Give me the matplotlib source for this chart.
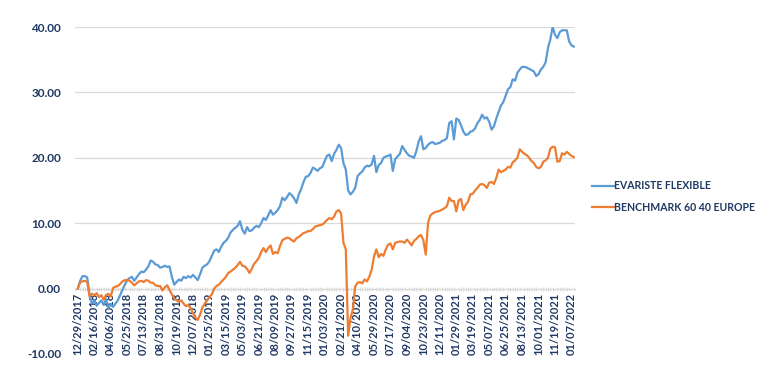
import matplotlib
matplotlib.use("Agg")
import matplotlib.pyplot as plt
from matplotlib.ticker import FixedLocator, MultipleLocator

plt.rcParams['font.family'] = ['Lato', 'DejaVu Sans']

tick_labels = ["12/29/2017", "02/16/2018", "04/06/2018", "05/25/2018", "07/13/2018",
               "08/31/2018", "10/19/2018", "12/07/2018", "01/25/2019", "03/15/2019",
               "05/03/2019", "06/21/2019", "08/09/2019", "09/27/2019", "11/15/2019",
               "01/03/2020", "02/21/2020", "04/10/2020", "05/29/2020", "07/17/2020",
               "09/04/2020", "10/23/2020", "12/11/2020", "01/29/2021", "03/19/2021",
               "05/07/2021", "06/25/2021", "08/13/2021", "10/01/2021", "11/19/2021",
               "01/07/2022"]

evariste = [
    0.0, 1.2, 1.9, 1.9, 1.7, -1.0, -2.3, -1.8, -2.6, -2.2,
    -1.8, -2.5, -1.6, -3.0, -2.4, -2.8, -2.3, -1.8, -1.0, -0.2,
    0.6, 1.3, 1.6, 1.8, 1.2, 1.7, 2.2, 2.6, 2.5, 2.9,
    3.4, 4.3, 4.1, 3.7, 3.6, 3.2, 3.3, 3.5, 3.3, 3.4,
    1.8, 0.6, 1.0, 1.4, 1.2, 1.8, 1.6, 1.9, 1.7, 2.1,
    1.7, 1.3, 2.2, 3.2, 3.5, 3.7, 4.2, 5.0, 5.8, 6.0,
    5.6, 6.4, 7.0, 7.3, 7.8, 8.6, 9.0, 9.3, 9.6, 10.3,
    9.0, 8.4, 9.4, 8.8, 8.9, 9.3, 9.6, 9.4, 10.0, 10.8,
    10.5, 11.2, 12.0, 11.3, 11.6, 12.0, 12.6, 13.9, 13.5, 14.0,
    14.6, 14.3, 13.8, 13.1, 14.4, 15.2, 16.3, 17.1, 17.2, 17.7,
    18.5, 18.3, 18.0, 18.4, 18.6, 19.5, 20.3, 20.5, 19.5, 20.6,
    21.2, 22.0, 21.5, 19.2, 18.2, 15.0, 14.4, 14.8, 15.4, 17.2,
    17.6, 17.9, 18.5, 18.8, 18.7, 19.0, 20.3, 17.8, 18.9, 19.2,
    20.0, 20.2, 20.3, 20.5, 18.0, 19.8, 20.2, 20.6, 21.8, 21.2,
    20.7, 20.3, 20.2, 20.0, 21.0, 22.5, 23.3, 21.3, 21.5, 22.0,
    22.3, 22.4, 22.1, 22.2, 22.3, 22.6, 22.7, 23.0, 25.3, 25.6,
    22.8, 26.0, 25.8, 25.0, 24.0, 23.5, 23.6, 24.0, 24.1, 24.5,
    25.3, 25.8, 26.6, 26.0, 26.2, 25.5, 24.3, 24.8, 26.0, 27.0,
    28.0, 28.5, 29.5, 30.5, 30.8, 32.0, 31.8, 33.0, 33.5, 33.9,
    33.9, 33.8, 33.6, 33.4, 33.2, 32.5, 32.8, 33.5, 33.9, 34.6,
    36.8, 38.1, 40.0, 38.8, 38.3, 39.2, 39.5, 39.5, 39.5, 37.8,
    37.2, 37.0]

benchmark = [
    0.0, 1.0, 1.1, 1.2, 1.0, -1.2, -0.8, -1.0, -0.7, -1.3,
    -1.0, -1.7, -1.0, -0.8, -1.2, 0.1, 0.3, 0.4, 0.7, 1.1,
    1.3, 1.3, 1.2, 0.9, 0.5, 0.8, 1.1, 1.2, 1.0, 1.3,
    1.2, 0.9, 0.9, 0.5, 0.4, 0.4, -0.3, 0.2, 0.5, -0.2,
    -0.9, -1.5, -1.8, -2.0, -1.8, -2.3, -2.7, -2.5, -3.0, -3.8,
    -4.4, -4.8, -4.0, -2.9, -2.3, -1.8, -1.3, -0.9, 0.0, 0.4,
    0.6, 1.0, 1.4, 1.8, 2.4, 2.6, 2.9, 3.2, 3.6, 4.1,
    3.5, 3.4, 3.0, 2.4, 3.0, 3.8, 4.2, 4.7, 5.6, 6.2,
    5.6, 6.2, 6.6, 5.3, 5.6, 5.4, 6.5, 7.4, 7.6, 7.8,
    7.7, 7.4, 7.2, 7.7, 7.9, 8.2, 8.5, 8.6, 8.8, 8.8,
    9.1, 9.5, 9.6, 9.7, 9.8, 10.1, 10.5, 10.8, 10.6, 11.0,
    11.8, 12.0, 11.5, 7.0, 6.0, -7.2, -4.5, -3.2, 0.3, 0.9,
    1.0, 0.8, 1.4, 1.1, 1.8, 2.9, 4.9, 6.0, 4.8, 5.3,
    5.0, 6.0, 6.7, 6.9, 6.0, 7.0, 7.1, 7.2, 7.2, 7.0,
    7.5, 7.1, 6.6, 7.3, 7.6, 8.0, 8.2, 7.4, 5.2, 10.1,
    11.2, 11.5, 11.7, 11.8, 11.9, 12.1, 12.3, 12.6, 13.9, 13.4,
    13.4, 11.8, 13.5, 13.7, 12.0, 12.8, 13.3, 14.4, 14.5, 15.0,
    15.4, 15.9, 16.0, 15.8, 15.4, 16.2, 16.3, 16.0, 16.9, 18.2,
    17.8, 18.0, 18.2, 18.6, 18.5, 19.3, 19.6, 20.0, 21.3, 20.9,
    20.6, 20.4, 20.0, 19.5, 19.2, 18.6, 18.4, 18.6, 19.4, 19.6,
    20.0, 21.4, 21.7, 21.6, 19.4, 19.5, 20.7, 20.5, 20.9, 20.6,
    20.3, 20.1]

series_names = ["EVARISTE FLEXIBLE", "BENCHMARK 60 40 EUROPE"]
label_step = 7

navy = "#1F3864"
blue = "#5B9BD5"
orange = "#ED7D31"

fig = plt.figure(figsize=(7.6, 3.78), dpi=100)
ax = fig.add_axes([75 / 760, 24 / 378, 500 / 760, 327 / 378])

x = list(range(len(evariste)))
ax.plot(x, evariste, color=blue, lw=1.6, label=series_names[0], zorder=3)
ax.plot(x, benchmark, color=orange, lw=1.6, label=series_names[1], zorder=3)

ax.set_ylim(-10, 40)
ax.set_xlim(-1.2, len(evariste) - 0.5)
ax.set_yticks([-10, 0, 10, 20, 30, 40])
ax.set_yticklabels([f"{v:.2f}" for v in [-10, 0, 10, 20, 30, 40]])
ax.yaxis.grid(True, color="#D9D9D9", lw=0.9)
ax.set_axisbelow(True)
ax.tick_params(axis='y', length=0, pad=10, labelsize=8.5, labelcolor=navy)
for lab in ax.get_yticklabels():
    lab.set_fontweight('bold')

for s in ['top', 'right', 'left']:
    ax.spines[s].set_visible(False)
ax.spines['bottom'].set_position(('data', 0))
ax.spines['bottom'].set_color("#D9D9D9")
ax.spines['bottom'].set_linewidth(0.9)

ax.xaxis.set_major_locator(FixedLocator([i * label_step for i in range(len(tick_labels))]))
ax.set_xticklabels(tick_labels, rotation=90, fontsize=8, fontweight='bold', color=navy)
ax.xaxis.set_minor_locator(MultipleLocator(1))
ax.tick_params(axis='x', which='major', length=0, pad=3)
ax.tick_params(axis='x', which='minor', length=3, color="#D9D9D9", direction='inout', width=0.6)

leg = fig.legend(loc='upper left', bbox_to_anchor=(582 / 760, 1 - 171 / 378),
                 frameon=False, handlelength=2.1, handletextpad=0.05,
                 labelspacing=0.95, borderpad=0.4,
                 prop={'weight': 'bold', 'size': 7.6})
for t in leg.get_texts():
    t.set_color(navy)

fig.savefig("out.png", dpi=100)
